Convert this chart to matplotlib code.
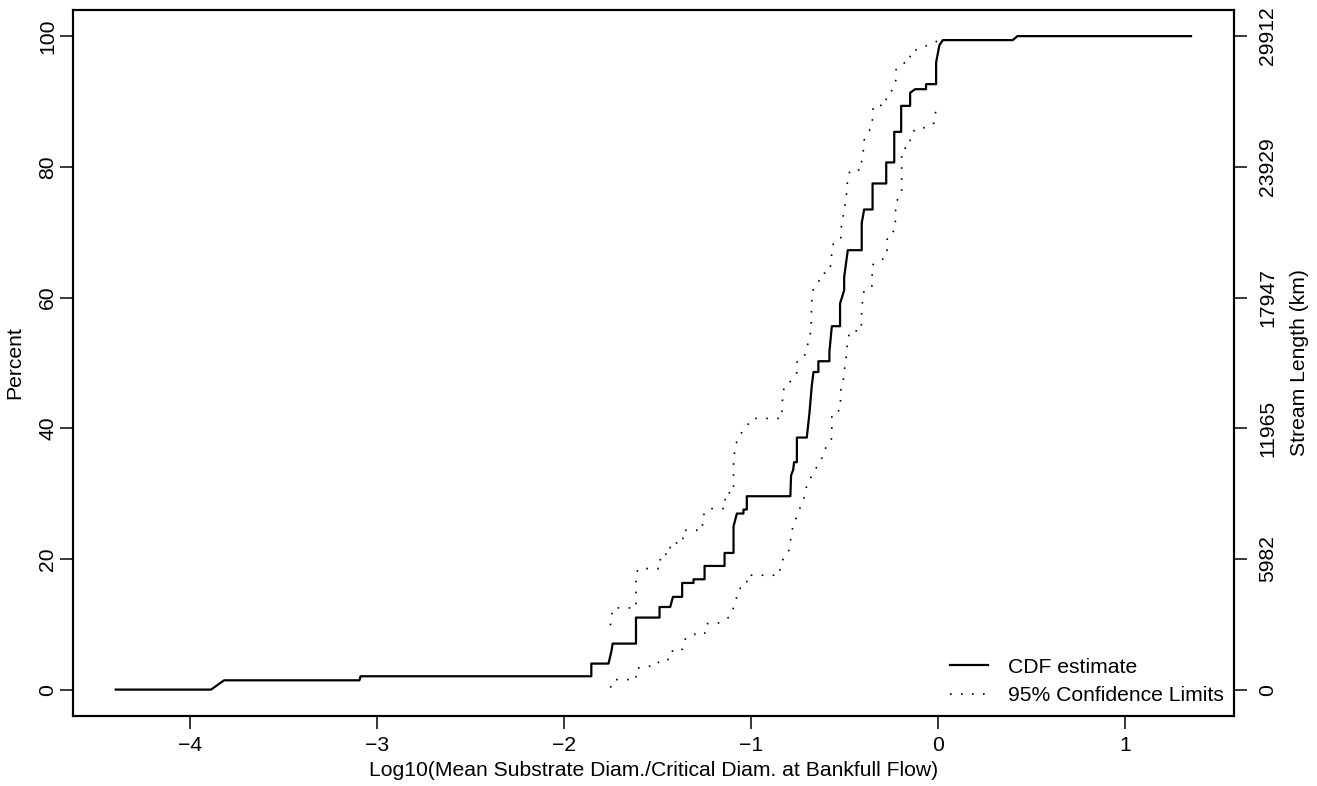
import numpy as np
import matplotlib
matplotlib.use('Agg')
import matplotlib.pyplot as plt

plt.rcParams['font.family'] = ['Liberation Sans', 'DejaVu Sans']

# CDF estimate (x = log10 ratio, y = percent)
cdf_x = [-4.40, -3.89, -3.82, -3.096, -3.09, -1.855, -1.855, -1.763, -1.748, -1.741,
         -1.616, -1.616, -1.490, -1.490, -1.433, -1.418, -1.369, -1.369, -1.308, -1.308,
         -1.249, -1.249, -1.142, -1.142, -1.094, -1.094, -1.076, -1.041, -1.041, -1.023,
         -1.023, -0.790, -0.786, -0.775, -0.770, -0.755, -0.755, -0.702, -0.688, -0.675,
         -0.666, -0.640, -0.640, -0.581, -0.581, -0.568, -0.524, -0.524, -0.502, -0.502,
         -0.4826, -0.408, -0.408, -0.395, -0.350, -0.350, -0.277, -0.277, -0.234, -0.234,
         -0.197, -0.197, -0.149, -0.149, -0.1225, -0.064, -0.064, -0.010, -0.010, 0.0075,
         0.026, 0.400, 0.425, 1.354]
cdf_pct = [0, 0, 1.42, 1.42, 2.04, 2.04, 3.98, 3.98, 5.8, 7.04,
           7.04, 11.02, 11.02, 12.64, 12.64, 14.19, 14.19, 16.32, 16.32, 16.88,
           16.88, 18.92, 18.92, 20.91, 20.91, 24.99, 26.94, 26.94, 27.55, 27.55,
           29.59, 29.59, 32.8, 33.6, 34.8, 34.8, 38.57, 38.57, 42.24, 46.58,
           48.6, 48.6, 50.25, 50.25, 51.68, 55.61, 55.61, 59.08, 61.12, 63.15,
           67.24, 67.24, 71.42, 73.47, 73.47, 77.45, 77.45, 80.67, 80.67, 85.35,
           85.35, 89.33, 89.33, 91.32, 91.88, 91.88, 92.65, 92.65, 95.97, 98.62,
           99.39, 99.39, 100, 100]

# upper 95% confidence limit
upper_x = [-1.753, -1.745, -1.738, -1.616, -1.616, -1.600, -1.486, -1.486, -1.433, -1.433,
           -1.365, -1.365, -1.260, -1.260, -1.228, -1.139, -1.139, -1.094, -1.094, -1.073,
           -1.019, -0.996, -0.835, -0.835, -0.823, -0.782, -0.755, -0.755, -0.720, -0.702,
           -0.693, -0.680, -0.675, -0.666, -0.640, -0.627, -0.581, -0.572, -0.568, -0.559,
           -0.520, -0.518, -0.509, -0.502, -0.491, -0.488, -0.483, -0.470, -0.411, -0.408,
           -0.398, -0.394, -0.372, -0.351, -0.351, -0.345, -0.279, -0.276, -0.242, -0.226,
           -0.224, -0.194, -0.149, -0.149, -0.092, -0.051, -0.006, 0.020]
upper_pct = [9.84, 11.5, 12.5, 12.5, 17.85, 18.52, 18.52, 20.71, 20.71, 22.44,
             22.44, 24.38, 24.38, 26.53, 27.7, 27.7, 30.1, 30.1, 35.5, 38.5,
             40.46, 41.5, 41.5, 43.5, 46.5, 47.3, 48.5, 50.1, 50.7, 52.0,
             53.5, 54.8, 59.8, 61.4, 62.2, 63.6, 63.9, 65.3, 67.0, 68.4,
             69.0, 70.7, 72.1, 73.6, 75.0, 76.5, 78.2, 79.5, 79.5, 81.1,
             82.7, 84.2, 85.3, 86.3, 88.0, 89.4, 89.4, 90.9, 91.8, 93.2,
             94.9, 95.8, 96.1, 97.6, 98.1, 98.7, 99.2, 99.4]

# lower 95% confidence limit
lower_x = [-1.753, -1.735, -1.616, -1.616, -1.570, -1.509, -1.486, -1.433, -1.418, -1.367,
           -1.350, -1.303, -1.249, -1.240, -1.183, -1.139, -1.107, -1.094, -1.080, -1.068,
           -1.023, -1.023, -0.850, -0.840, -0.800, -0.780, -0.750, -0.720, -0.700, -0.660,
           -0.620, -0.609, -0.581, -0.568, -0.568, -0.524, -0.519, -0.507, -0.502, -0.493,
           -0.488, -0.483, -0.470, -0.411, -0.408, -0.403, -0.395, -0.354, -0.351, -0.310,
           -0.274, -0.271, -0.229, -0.226, -0.194, -0.194, -0.149, -0.149, -0.117, -0.064,
           -0.021, -0.006]
lower_pct = [0.3, 1.53, 1.53, 3.2, 3.57, 3.57, 4.6, 4.6, 6.17, 6.17,
             7.9, 8.46, 8.46, 10.1, 10.1, 10.6, 11.4, 12.55, 13.8, 15.35,
             15.96, 17.5, 17.5, 19.5, 21.0, 24.5, 27.0, 29.0, 31.5, 33.5,
             35.5, 36.7, 37.65, 38.5, 42.3, 42.75, 46.1, 47.3, 48.8, 50.3,
             51.9, 53.6, 54.9, 54.9, 58.1, 59.6, 61.2, 61.7, 65.0, 65.6,
             66.3, 69.5, 70.3, 74.5, 76.1, 82.6, 83.2, 84.8, 85.9, 86.0,
             86.7, 89.7]

pct_ticks = [0, 20, 40, 60, 80, 100]
length_labels = ['0', '5982', '11965', '17947', '23929', '29912']
x_ticks = [-4, -3, -2, -1, 0, 1]

fs = 15.2

fig = plt.figure(figsize=(13.17, 7.86), dpi=100)
ax = fig.add_axes([0.0552, 0.0894, 0.8818, 0.8979])

ax.plot(cdf_x, cdf_pct, color='black', lw=1.6, label='CDF estimate')
ax.plot(upper_x, upper_pct, color='black', lw=1.2, linestyle=(0, (1, 5.6)),
        label='95% Confidence Limits')
ax.plot(lower_x, lower_pct, color='black', lw=1.2, linestyle=(0, (1, 5.6)))

# R style 4% padding
lo, hi = min(cdf_x), max(cdf_x)
pad = 0.04 * (hi - lo)
ax.set_xlim(lo - pad, hi + pad)
ax.set_ylim(-4, 104)

ax.set_xticks(x_ticks)
ax.set_xticklabels([str(v).replace('-', '\u2212') for v in x_ticks], fontsize=fs)
ax.set_yticks(pct_ticks)
ax.set_yticklabels([str(v) for v in pct_ticks], rotation=90, va='center', fontsize=fs)
ax.tick_params(axis='both', direction='out', length=9.4, width=1.1)
ax.tick_params(axis='x', pad=5.4)
ax.tick_params(axis='y', pad=1.8)
for s in ax.spines.values():
    s.set_linewidth(1.5)

ax.set_xlabel('Log10(Mean Substrate Diam./Critical Diam. at Bankfull Flow)', fontsize=fs, labelpad=4)
ax.set_ylabel('Percent', fontsize=fs, labelpad=10)

ax2 = ax.twinx()
ax2.set_ylim(-4, 104)
ax2.set_yticks(pct_ticks)
ax2.set_yticklabels(length_labels, rotation=90, va='center', fontsize=fs)
ax2.tick_params(axis='y', direction='out', length=9.4, width=1.1, pad=8.2)
ax2.set_ylabel('Stream Length (km)', fontsize=fs, labelpad=9)
for s in ax2.spines.values():
    s.set_linewidth(1.5)

ax.legend(loc='lower right', frameon=False, fontsize=fs, handlelength=1.8,
          handletextpad=0.95, labelspacing=0.45, borderaxespad=0.1)

fig.savefig('out.png', dpi=100)
